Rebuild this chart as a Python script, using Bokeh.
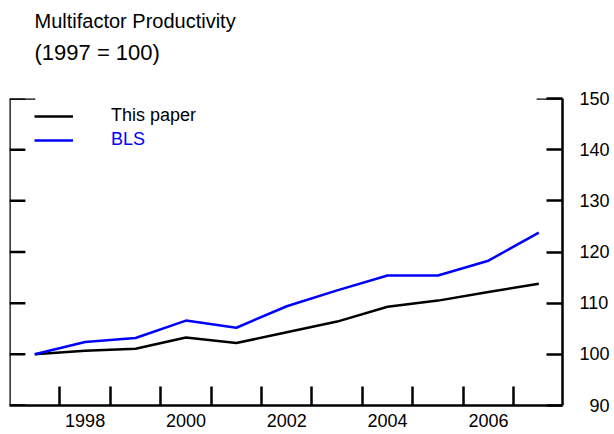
from bokeh.plotting import figure
from bokeh.models import Range1d, LinearAxis, FixedTicker, Title, Legend, LegendItem, Span
from bokeh.embed import file_html
from bokeh.resources import INLINE

years = [1997, 1998, 1999, 2000, 2001, 2002, 2003, 2004, 2005, 2006, 2007]
this_paper = [100.0, 100.7, 101.1, 103.3, 102.2, 104.3, 106.4, 109.3, 110.5, 112.2, 113.8]
bls = [100.0, 102.4, 103.2, 106.6, 105.2, 109.4, 112.5, 115.4, 115.4, 118.3, 123.8]
x_label_ticks = [1998, 2000, 2002, 2004, 2006]
x_minor_ticks = [1997.5, 1998.5, 1999.5, 2000.5, 2001.5, 2002.5, 2003.5, 2004.5, 2005.5, 2006.5]
y_ticks = [90, 100, 110, 120, 130, 140, 150]
title_text = "Multifactor Productivity"
subtitle_text = "(1997 = 100)"

FONT = "Liberation Sans"
X0, X1 = 1996.5, 2007.47
Y0, Y1 = 90, 150
FRAME_W = 556
PX_PER_YEAR = FRAME_W / (X1 - X0)

p = figure(width=612, height=430, x_range=Range1d(X0, X1), y_range=Range1d(Y0, Y1),
           output_backend="svg", toolbar_location=None, title=None, y_axis_location=None,
           min_border_left=9, min_border_right=47, min_border_top=98, min_border_bottom=25)
p.outline_line_color = None
p.grid.visible = False
p.background_fill_color = "white"
p.border_fill_color = "white"

# bottom axis: labels at even years, inward ticks at half years
xa = p.xaxis[0]
xa.ticker = FixedTicker(ticks=x_label_ticks, minor_ticks=x_minor_ticks)
xa.major_tick_in = 0
xa.major_tick_out = 0
xa.minor_tick_in = 19
xa.minor_tick_out = 0
xa.minor_tick_line_width = 2.5
xa.minor_tick_line_color = "black"
xa.axis_line_width = 2.5
xa.axis_line_color = "black"
xa.major_label_text_font = FONT
xa.major_label_text_font_size = "18px"
xa.major_label_text_color = "black"
xa.major_label_standoff = 8

# right axis with labels
ra = LinearAxis(ticker=FixedTicker(ticks=y_ticks))
ra.major_tick_in = 16
ra.major_tick_out = 0
ra.major_tick_line_width = 2.5
ra.minor_tick_line_color = None
ra.axis_line_width = 2.5
ra.major_label_text_font = FONT
ra.major_label_text_font_size = "18px"
ra.major_label_text_color = "black"
ra.major_label_standoff = 17
ra.major_label_overrides = {90: "\u200790"}
p.add_layout(ra, "right")

# left spine and inward ticks (no labels)
p.add_layout(Span(location=X0, dimension="height", line_color="black", line_width=2.5))
tick16 = 16 / PX_PER_YEAR
p.segment(x0=[X0] * len(y_ticks), x1=[X0 + tick16] * len(y_ticks), y0=y_ticks, y1=y_ticks,
          line_color="black", line_width=2.5)

# longer tick stubs at the top value
stub = 26 / PX_PER_YEAR
p.segment(x0=[X0, X1 - stub], x1=[X0 + stub, X1], y0=[Y1, Y1], y1=[Y1, Y1],
          line_color="black", line_width=2.5)

r1 = p.line(years, this_paper, line_color="black", line_width=2.5)
r2 = p.line(years, bls, line_color="#0000FF", line_width=2.5)

def make_legend(label, r, color, y):
    lg = Legend(items=[LegendItem(label=label, renderers=[r])], location=(25, y),
                orientation="vertical", padding=0, margin=0, spacing=0,
                glyph_width=39, glyph_height=20, label_height=20, label_standoff=38,
                label_text_font=FONT, label_text_font_size="18px", label_text_color=color,
                border_line_color=None, background_fill_alpha=0)
    p.add_layout(lg, "center")

make_legend("This paper", r1, "black", 279)
make_legend("BLS", r2, "#0000FF", 255)

sub = Title(text=subtitle_text, align="left", offset=25, text_font=FONT,
            text_font_size="22px", text_font_style="normal", text_color="black", standoff=68)
main = Title(text=title_text, align="left", offset=25, text_font=FONT,
             text_font_size="20px", text_font_style="normal", text_color="black", standoff=-56)
p.add_layout(sub, "above")
p.add_layout(main, "above")

open("out.html", "w").write(file_html(p, INLINE))
